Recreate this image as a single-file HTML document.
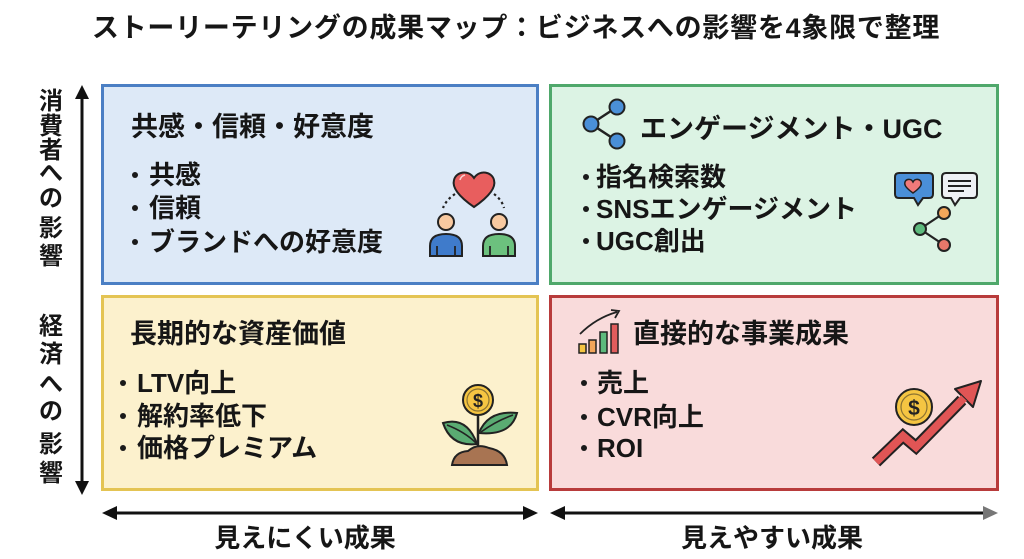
<!DOCTYPE html>
<html><head><meta charset="utf-8"><style>
*{margin:0;padding:0;box-sizing:border-box}
body{width:1024px;height:559px;background:#fff;position:relative;overflow:hidden;font-family:"Liberation Sans","Noto Sans CJK JP",sans-serif;color:#161616}
.t{position:absolute;white-space:nowrap;font-weight:bold;line-height:30px;height:30px}
.box{position:absolute;border:3px solid}
.h{font-size:27px}
.b{font-size:26px}
.dot{position:absolute;width:6px;height:6px;border-radius:50%;background:#1a1a1a}
.v{position:absolute;left:38px;width:26px;text-align:center;font-size:24px;font-weight:bold;line-height:26px;height:26px}
svg{position:absolute;left:0;top:0}
</style></head><body>

<div class="t" style="left:0;width:1032px;text-align:center;top:13px;font-size:27px;letter-spacing:0.75px">ストーリーテリングの成果マップ：ビジネスへの影響を4象限で整理</div>

<div class="box" style="left:101px;top:84px;width:438px;height:201px;background:#dde9f7;border-color:#4b7fc4"></div>
<div class="box" style="left:549px;top:84px;width:450px;height:201px;background:#dcf3e4;border-color:#4fa86b"></div>
<div class="box" style="left:101px;top:295px;width:438px;height:196px;background:#fcf1cd;border-color:#e4c453"></div>
<div class="box" style="left:549px;top:295px;width:450px;height:196px;background:#f9dbdb;border-color:#b83b3b"></div>

<!-- blue -->
<div class="t h" style="left:131px;top:112px">共感・信頼・好意度</div>
<div class="dot" style="left:132px;top:172px"></div>
<div class="t b" style="left:149px;top:160px">共感</div>
<div class="dot" style="left:132px;top:205px"></div>
<div class="t b" style="left:149px;top:193px">信頼</div>
<div class="dot" style="left:132px;top:239px"></div>
<div class="t b" style="left:149px;top:227px">ブランドへの好意度</div>

<!-- green -->
<div class="t h" style="left:640px;top:114px">エンゲージメント・UGC</div>
<div class="dot" style="left:583px;top:174px"></div>
<div class="t b" style="left:596px;top:162px">指名検索数</div>
<div class="dot" style="left:583px;top:206px"></div>
<div class="t b" style="left:596px;top:194px">SNSエンゲージメント</div>
<div class="dot" style="left:583px;top:238px"></div>
<div class="t b" style="left:596px;top:226px">UGC創出</div>

<!-- yellow -->
<div class="t h" style="left:130px;top:319px">長期的な資産価値</div>
<div class="dot" style="left:120px;top:380px"></div>
<div class="t b" style="left:137px;top:368px">LTV向上</div>
<div class="dot" style="left:120px;top:413px"></div>
<div class="t b" style="left:137px;top:401px">解約率低下</div>
<div class="dot" style="left:120px;top:445px"></div>
<div class="t b" style="left:137px;top:433px">価格プレミアム</div>

<!-- red -->
<div class="t h" style="left:633px;top:319px">直接的な事業成果</div>
<div class="dot" style="left:581px;top:380px"></div>
<div class="t b" style="left:597px;top:368px">売上</div>
<div class="dot" style="left:581px;top:414px"></div>
<div class="t b" style="left:597px;top:402px">CVR向上</div>
<div class="dot" style="left:581px;top:445px"></div>
<div class="t b" style="left:597px;top:433px">ROI</div>

<!-- axis labels -->
<div class="v" style="top:89px">消</div>
<div class="v" style="top:114px">費</div>
<div class="v" style="top:138px">者</div>
<div class="v" style="top:161px">へ</div>
<div class="v" style="top:186px">の</div>
<div class="v" style="top:216px">影</div>
<div class="v" style="top:244px">響</div>

<div class="v" style="top:314px">経</div>
<div class="v" style="top:342px">済</div>
<div class="v" style="top:372px">へ</div>
<div class="v" style="top:399px">の</div>
<div class="v" style="top:432px">影</div>
<div class="v" style="top:461px">響</div>

<div class="t" style="left:205px;width:200px;text-align:center;top:523px;font-size:26px">見えにくい成果</div>
<div class="t" style="left:672px;width:200px;text-align:center;top:523px;font-size:26px">見えやすい成果</div>

<svg width="1024" height="559" viewBox="0 0 1024 559">
 <!-- vertical axis -->
 <line x1="82" y1="96" x2="82" y2="484" stroke="#111" stroke-width="3"/>
 <polygon points="82,85 75,99 89,99" fill="#111"/>
 <polygon points="82,495 75,481 89,481" fill="#111"/>
 <!-- horizontal axes -->
 <line x1="114" y1="513" x2="526" y2="513" stroke="#111" stroke-width="3"/>
 <polygon points="102,513 117,506 117,520" fill="#111"/>
 <polygon points="538,513 523,506 523,520" fill="#111"/>
 <line x1="562" y1="513" x2="985" y2="513" stroke="#111" stroke-width="3"/>
 <polygon points="550,513 565,506 565,520" fill="#111"/>
 <polygon points="998,513 983,506 983,520" fill="#777"/>

 <!-- blue icon: heart + people -->
 <path d="M455,194 Q446,200 443,208" fill="none" stroke="#222" stroke-width="2.2" stroke-dasharray="2.5 3"/>
 <path d="M494,194 Q502,200 504,208" fill="none" stroke="#222" stroke-width="2.2" stroke-dasharray="2.5 3"/>
 <path d="M474,207 C458,196 452,187 454,180 C456,172 468,169 474,178 C480,169 492,172 494,180 C496,187 490,196 474,207 Z" fill="#e85e5e" stroke="#222" stroke-width="2"/>
 <path d="M460,180 Q461,176 465,175" fill="none" stroke="#fff" stroke-width="1.5" opacity="0.7"/>
 <circle cx="446" cy="222" r="8" fill="#f8c9a0" stroke="#222" stroke-width="2"/>
 <path d="M430,256 L430,246 Q430,234 446,234 Q462,234 462,246 L462,256 Z" fill="#3f7bcb" stroke="#222" stroke-width="2"/>
 <line x1="437" y1="246" x2="437" y2="256" stroke="#222" stroke-width="1.8"/>
 <line x1="455" y1="246" x2="455" y2="256" stroke="#222" stroke-width="1.8"/>
 <circle cx="499" cy="222" r="8" fill="#f8c9a0" stroke="#222" stroke-width="2"/>
 <path d="M483,256 L483,246 Q483,234 499,234 Q515,234 515,246 L515,256 Z" fill="#6cc17e" stroke="#222" stroke-width="2"/>
 <line x1="490" y1="246" x2="490" y2="256" stroke="#222" stroke-width="1.8"/>
 <line x1="508" y1="246" x2="508" y2="256" stroke="#222" stroke-width="1.8"/>

 <!-- green title share icon -->
 <line x1="591" y1="124" x2="617" y2="107" stroke="#222" stroke-width="2.5"/>
 <line x1="591" y1="124" x2="617" y2="141" stroke="#222" stroke-width="2.5"/>
 <circle cx="617" cy="107" r="7.5" fill="#4a8fd8" stroke="#222" stroke-width="2"/>
 <circle cx="591" cy="124" r="7.5" fill="#4a8fd8" stroke="#222" stroke-width="2"/>
 <circle cx="617" cy="141" r="7.5" fill="#4a8fd8" stroke="#222" stroke-width="2"/>

 <!-- green icon: bubbles + share -->
 <path d="M899,173 H929 Q933,173 933,177 V194 Q933,198 929,198 H923 L918,205 L914,198 H899 Q895,198 895,194 V177 Q895,173 899,173 Z" fill="#4a8fd8" stroke="#222" stroke-width="2"/>
 <path d="M913,193 C906,188 904,185 905,182 C906,179 911,178 913,182 C915,178 920,179 921,182 C922,185 920,188 913,193 Z" fill="#f07a7a" stroke="#222" stroke-width="1.5"/>
 <path d="M946,173 H973 Q977,173 977,177 V194 Q977,198 973,198 H960 L955,205 L951,198 H946 Q942,198 942,194 V177 Q942,173 946,173 Z" fill="#eef1f5" stroke="#222" stroke-width="2"/>
 <line x1="948" y1="181" x2="971" y2="181" stroke="#222" stroke-width="2"/>
 <line x1="948" y1="186" x2="971" y2="186" stroke="#222" stroke-width="2"/>
 <line x1="948" y1="191" x2="964" y2="191" stroke="#222" stroke-width="2"/>
 <line x1="920" y1="229" x2="944" y2="213" stroke="#222" stroke-width="2.2"/>
 <line x1="920" y1="229" x2="944" y2="245" stroke="#222" stroke-width="2.2"/>
 <circle cx="944" cy="213" r="6" fill="#f2a65a" stroke="#222" stroke-width="2"/>
 <circle cx="920" cy="229" r="6" fill="#5dba7d" stroke="#222" stroke-width="2"/>
 <circle cx="944" cy="245" r="6" fill="#e8776a" stroke="#222" stroke-width="2"/>

 <!-- yellow icon: plant -->
 <line x1="478" y1="414" x2="478" y2="452" stroke="#222" stroke-width="2.5"/>
 <path d="M477,444 Q451,447 443,423 Q467,416 477,444 Z" fill="#5aab72" stroke="#222" stroke-width="2"/>
 <path d="M447,425 Q465,432 476,443" fill="none" stroke="#222" stroke-width="1.6"/>
 <path d="M479,433 Q488,410 517,413 Q511,436 479,433 Z" fill="#5aab72" stroke="#222" stroke-width="2"/>
 <path d="M513,415 Q496,421 481,432" fill="none" stroke="#222" stroke-width="1.6"/>
 <path d="M452,465 Q454,452 468,451 Q477,443 489,448 Q505,451 507,465 Z" fill="#a87452" stroke="#222" stroke-width="2"/>
 <circle cx="478" cy="400" r="15" fill="#f5c542" stroke="#222" stroke-width="2"/>
 <circle cx="478" cy="400" r="11" fill="none" stroke="#222" stroke-width="1.2" opacity="0.5"/>
 <text x="478" y="407" text-anchor="middle" font-family="Liberation Sans, sans-serif" font-weight="bold" font-size="18" fill="#222">$</text>

 <!-- red title chart icon -->
 <rect x="579" y="344" width="7" height="9" fill="#f5c542" stroke="#222" stroke-width="1.5"/>
 <rect x="589" y="340" width="7" height="13" fill="#f2a65a" stroke="#222" stroke-width="1.5"/>
 <rect x="600" y="332" width="7" height="21" fill="#5dba7d" stroke="#222" stroke-width="1.5"/>
 <rect x="611" y="324" width="7" height="29" fill="#e05c5c" stroke="#222" stroke-width="1.5"/>
 <path d="M580,334 Q596,318 617,312" fill="none" stroke="#222" stroke-width="1.8"/>
 <polyline points="611,310 619,311 615,318" fill="none" stroke="#222" stroke-width="1.8"/>

 <!-- red icon: coin + zigzag arrow -->
 <circle cx="914" cy="407" r="18" fill="#f5c542" stroke="#222" stroke-width="2"/>
 <circle cx="914" cy="407" r="13" fill="none" stroke="#222" stroke-width="1.2" opacity="0.5"/>
 <text x="914" y="415" text-anchor="middle" font-family="Liberation Sans, sans-serif" font-weight="bold" font-size="21" fill="#222">$</text>
 <polyline points="876,462 903,436 916,447 962,400" fill="none" stroke="#222" stroke-width="12" stroke-linejoin="miter"/>
 <polygon points="981,381 955,389 973,407" fill="#e05555" stroke="#222" stroke-width="2" stroke-linejoin="round"/>
 <polyline points="876,462 903,436 916,447 964,398" fill="none" stroke="#e05555" stroke-width="8" stroke-linejoin="miter"/>
</svg>
</body></html>
